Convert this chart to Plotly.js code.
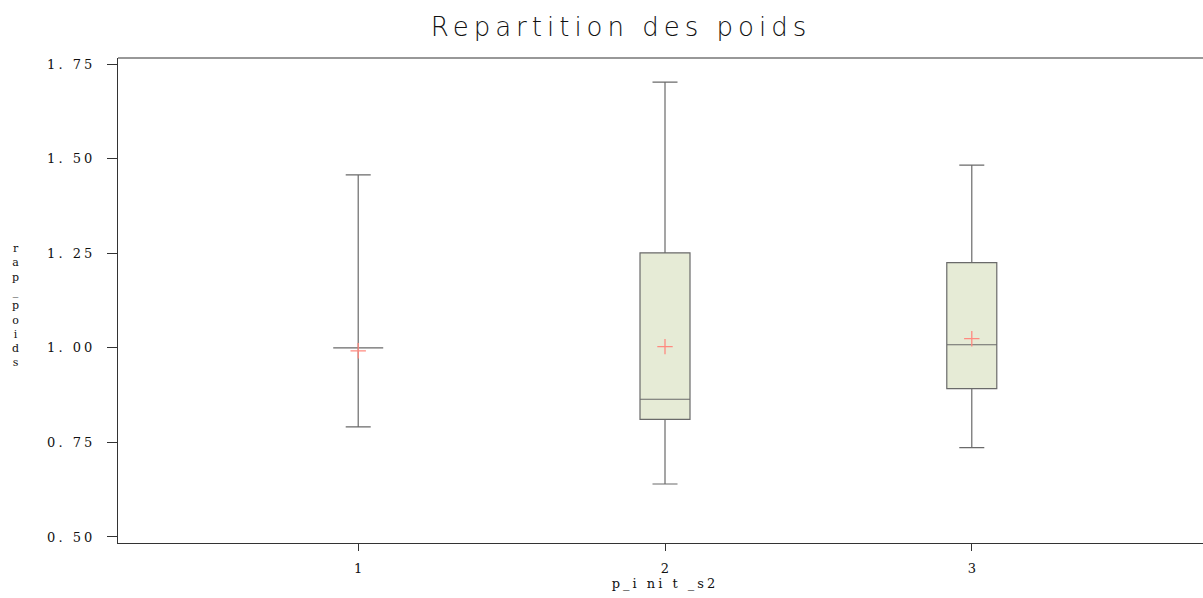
<!DOCTYPE html>
<html>
<head>
<meta charset="utf-8">
<script src="https://cdn.plot.ly/plotly-3.0.1.min.js"></script>
<style>html,body{margin:0;padding:0;background:#fff;overflow:hidden;}#chart{width:1212px;height:598px;}</style>
</head>
<body>
<div id="chart"></div>
<script>
// Data
const categories = [1, 2, 3];
const categoryLabels = ["1", "2", "3"];
const lowerWhisker = [0.791, 0.640, 0.736];
const q1Values = [1.000, 0.811, 0.892];
const medianValues = [1.000, 0.864, 1.008];
const q3Values = [1.000, 1.251, 1.225];
const upperWhisker = [1.457, 1.702, 1.483];
const meanValues = [0.992, 1.003, 1.024];
const yTickVals = [0.50, 0.75, 1.00, 1.25, 1.50, 1.75];
const yTickText = ["0. 50", "0. 75", "1. 00", "1. 25", "1. 50", "1. 75"];

const boxTrace = {
  type: 'box',
  x: categories,
  q1: q1Values,
  median: medianValues,
  q3: q3Values,
  lowerfence: lowerWhisker,
  upperfence: upperWhisker,
  width: 0.163,
  whiskerwidth: 0.5,
  fillcolor: '#e6ebd6',
  line: {color: '#6a6a6a', width: 1.2},
  hoverinfo: 'skip',
  showlegend: false
};

const meanTrace = {
  type: 'scatter',
  mode: 'markers',
  x: categories,
  y: meanValues,
  marker: {symbol: 'cross-thin', size: 11, line: {color: '#ff8a80', width: 1.3}, color: '#ff8a80'},
  hoverinfo: 'skip',
  showlegend: false
};

const layout = {
  width: 1212,
  height: 598,
  margin: {l: 118, r: 0, t: 58, b: 55},
  paper_bgcolor: '#ffffff',
  plot_bgcolor: '#ffffff',
  showlegend: false,
  title: {
    text: 'Repartition des poids',
    font: {family: 'DejaVu Sans', size: 26, color: '#111', weight: 200},
    x: 0.5124, xref: 'container', xanchor: 'center',
    y: 0.955, yref: 'container', yanchor: 'middle'
  },
  xaxis: {
    type: 'linear',
    range: [0.217, 3.783],
    tickmode: 'array',
    tickvals: categories,
    ticktext: categoryLabels,
    ticks: 'outside',
    ticklen: 7,
    tickcolor: '#333',
    tickwidth: 1,
    ticklabelstandoff: 6,
    showline: true,
    linecolor: '#333',
    linewidth: 1.2,
    mirror: false,
    showgrid: false,
    zeroline: false,
    tickfont: {family: 'DejaVu Serif', size: 13, color: '#111'},
    title: {text: 'p_i ni t _s2', font: {family: 'DejaVu Serif', size: 13, color: '#111'}, standoff: 4}
  },
  yaxis: {
    range: [0.4841, 1.7659],
    tickmode: 'array',
    tickvals: yTickVals,
    ticktext: yTickText,
    ticks: 'outside',
    ticklen: 10,
    tickcolor: '#333',
    tickwidth: 1,
    ticklabelstandoff: 9,
    showline: true,
    linecolor: '#333',
    linewidth: 1.2,
    mirror: false,
    showgrid: false,
    zeroline: false,
    tickfont: {family: 'DejaVu Serif', size: 13, color: '#111'}
  },
  shapes: [{
    type: 'line', xref: 'paper', yref: 'paper',
    x0: 0, x1: 1, y0: 1, y1: 1,
    line: {color: '#333', width: 1.2}
  }],
  annotations: [{
    text: 'r<br>a<br>p<br>_<br>p<br>o<br>i<br>d<br>s',
    xref: 'paper', yref: 'paper',
    x: -0.0941, y: 0.49,
    xanchor: 'center', yanchor: 'middle',
    showarrow: false,
    align: 'center',
    font: {family: 'DejaVu Serif', size: 11, color: '#111'}
  }]
};

Plotly.newPlot('chart', [boxTrace, meanTrace], layout, {displayModeBar: false, staticPlot: true}).then(function () {
  document.querySelectorAll('.gtitle').forEach(function (el) { el.style.letterSpacing = '5px'; });
  document.querySelectorAll('.ytick text').forEach(function (el) { el.style.letterSpacing = '3px'; });
  document.querySelectorAll('.g-xtitle text').forEach(function (el) { el.style.letterSpacing = '3px'; });
});
</script>
</body>
</html>
